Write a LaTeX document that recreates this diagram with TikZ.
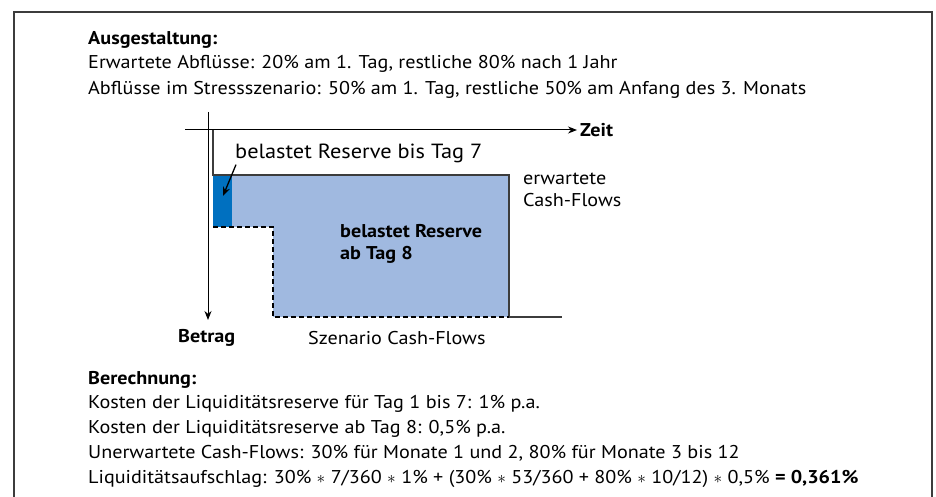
\documentclass[tikz,border=0pt]{standalone}
\usepackage{fontspec}
\setmainfont{PT Sans}[FakeStretch=1.09]
\usetikzlibrary{arrows.meta}
\definecolor{hellblau}{RGB}{160,185,224}
\definecolor{dunkelblau}{RGB}{0,112,192}
\definecolor{rahmen}{RGB}{60,60,60}
\tikzset{
  txt/.style={anchor=west,inner sep=0pt,font=\fontsize{18.5}{22}\selectfont},
  fett/.style={txt,font=\fontsize{18.5}{22}\selectfont\bfseries},
  zeile/.style={anchor=base west,inner sep=0pt,font=\fontsize{18.5}{22}\selectfont},
  fettzeile/.style={zeile,font=\fontsize{18.5}{22}\selectfont\bfseries}
}
\begin{document}
\begin{tikzpicture}[x=1pt,y=-1pt]
  \useasboundingbox (0,0) rectangle (936,497);
  \draw [rahmen,line width=1.5pt] (14,520) -- (14,12) -- (932,12) -- (932,520);
  % Ausgestaltung
  \node [fettzeile] (aus) at (88,45) {Ausgestaltung:};
  \node [zeile] (erw) at (88,69) {Erwartete Abflüsse: 20\% am 1. Tag, restliche 80\% nach 1 Jahr};
  \node [zeile] (stress) at (88,95) {Abflüsse im Stressszenario: 50\% am 1. Tag, restliche 50\% am Anfang des 3. Monats};
  % Flaechen
  \fill [hellblau] (232,175) rectangle (509,227);
  \fill [hellblau] (273,227) rectangle (509,317);
  \fill [dunkelblau] (213,175) rectangle (232,227);
  \def\erwartet{(213,130) -- (213,175) -- (509,175) -- (509,317) -- (562,317)}
  \def\szenario{(213,227) -- (273,227) -- (273,317) -- (509,317)}
  \draw [rahmen,line width=1.3pt] \erwartet;
  \draw [line width=1.3pt,dash pattern=on 5pt off 3pt] \szenario;
  % Achsen
  \coordinate (h0) at (185,130);
  \coordinate (v0) at (208,112);
  \coordinate (v1) at (208,320);
  \node [fett] (zeit) at (580,130) {Zeit};
  \draw [line width=1pt,shorten >=3pt,-{Stealth[length=9pt,width=7pt]}] (h0) -- (zeit.west);
  \draw [line width=1pt,-{Stealth[length=9pt,width=7pt]}] (v0) -- (v1);
  % Beschriftungen
  \node [txt,font=\fontsize{20.5}{24}\selectfont] (res7) at (235,153) {belastet Reserve bis Tag 7};
  \coordinate (blk) at (223,196);
  \draw [line width=1.3pt,-{Stealth[length=9pt,width=7pt]}] ([xshift=1pt,yshift=-2pt]res7.south west) -- (blk);
  \node [txt,align=left] (erwcf) at (523,190) {erwartete\\Cash-Flows};
  \node [fett,align=left] (res8) at (340,244) {belastet Reserve\\ab Tag 8};
  \node [fett] (betrag) at (178,338) {Betrag};
  \node [txt] (szen) at (308,338) {Szenario Cash-Flows};
  % Berechnung
  \node [fettzeile] (ber) at (88,384) {Berechnung:};
  \node [zeile] (k1) at (88,408) {Kosten der Liquiditätsreserve für Tag 1 bis 7: 1\% p.a.};
  \node [zeile] (k2) at (88,433) {Kosten der Liquiditätsreserve ab Tag 8: 0,5\% p.a.};
  \node [zeile] (unerw) at (88,458) {Unerwartete Cash-Flows: 30\% für Monate 1 und 2, 80\% für Monate 3 bis 12};
  \node [zeile] (aufschlag) at (88,483) {Liquiditätsaufschlag: 30\% $\ast$ 7/360 $\ast$ 1\% + (30\% $\ast$ 53/360 + 80\% $\ast$ 10/12) $\ast$ 0,5\% \textbf{= 0,361\%}};
\end{tikzpicture}
\end{document}
